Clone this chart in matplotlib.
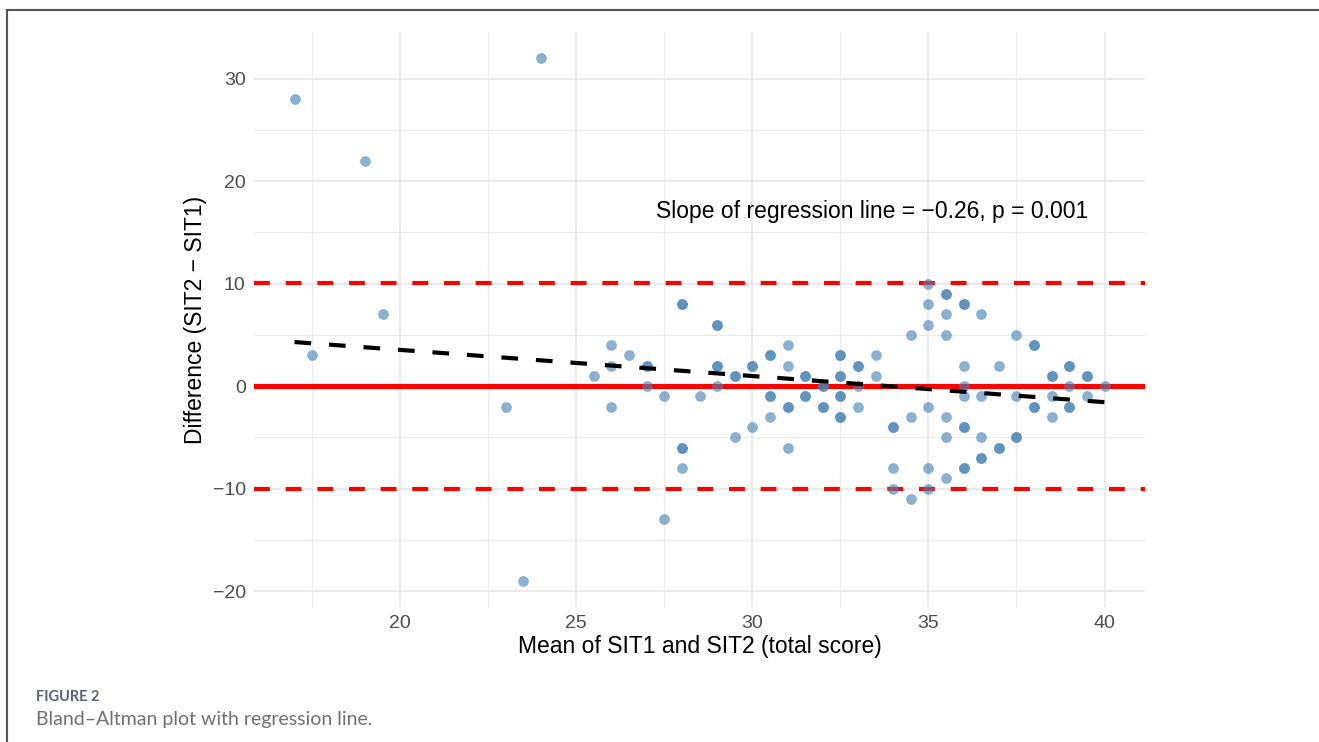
import matplotlib

matplotlib.use("Agg")
import matplotlib.pyplot as plt
from matplotlib.lines import Line2D

# mean of the two scores / difference; repeated pairs are overlapping points
mean_score = [
    17, 17.5, 19, 19.5, 23, 23.5, 24,
    25.5, 26, 26, 26, 26.5, 27, 27, 27, 27.5, 27.5,
    28, 28, 28, 28, 28, 28.5, 29, 29, 29, 29, 29, 29.5, 29.5, 29.5,
    30, 30, 30, 30.5, 30.5, 30.5, 30.5, 30.5,
    31, 31, 31, 31, 31, 31.5, 31.5, 31.5, 31.5,
    32, 32, 32, 32, 32.5, 32.5, 32.5, 32.5, 32.5, 32.5, 32.5, 32.5,
    33, 33, 33, 33, 33.5, 33.5,
    34, 34, 34, 34, 34.5, 34.5, 34.5,
    35, 35, 35, 35, 35, 35, 35.5, 35.5, 35.5, 35.5, 35.5, 35.5, 35.5,
    36, 36, 36, 36, 36, 36, 36, 36, 36, 36.5, 36.5, 36.5, 36.5, 36.5,
    37, 37, 37, 37.5, 37.5, 37.5, 37.5,
    38, 38, 38, 38, 38.5, 38.5, 38.5, 38.5,
    39, 39, 39, 39, 39, 39.5, 39.5, 39.5, 40,
]
difference = [
    28, 3, 22, 7, -2, -19, 32,
    1, 4, 2, -2, 3, 2, 2, 0, -1, -13,
    8, 8, -6, -6, -8, -1, 6, 6, 2, 2, 0, 1, 1, -5,
    2, 2, -4, 3, 3, -1, -1, -3,
    4, 2, -2, -2, -6, 1, 1, -1, -1,
    0, 0, -2, -2, 3, 3, 1, 1, -1, -1, -3, -3,
    2, 2, 0, -2, 3, 1,
    -4, -4, -8, -10, 5, -3, -11,
    10, 8, 6, -2, -8, -10, 9, 9, 7, 5, -3, -5, -9,
    8, 8, 2, 0, -4, -4, -8, -8, -1, 7, -1, -5, -7, -7,
    2, -6, -6, 5, -1, -5, -5,
    4, 4, -2, -2, 1, 1, -1, -3,
    2, 2, 0, -2, -2, 1, 1, -1, 0,
]

bias = 0.0
upper_loa = 10.1
lower_loa = -10.0
reg_slope = -0.255
reg_intercept = 8.635
annotation = "Slope of regression line = \u22120.26, p = 0.001"

x_ticks = [20, 25, 30, 35, 40]
y_ticks = [-20, -10, 0, 10, 20, 30]

plt.rcParams["font.family"] = ["Liberation Sans", "DejaVu Sans"]

fig = plt.figure(figsize=(13.19, 7.42), dpi=100)
W, H = 1319, 742
ax = fig.add_axes([254 / W, 1 - 607 / H, (1145 - 254) / W, (607 - 32) / H])

ax.set_xlim(15.85, 41.15)
ax.set_ylim(-21.55, 34.55)
ax.set_xticks(x_ticks)
ax.set_yticks(y_ticks)
ax.set_xticks([17.5, 22.5, 27.5, 32.5, 37.5], minor=True)
ax.set_yticks([-15, -5, 5, 15, 25], minor=True)
ax.grid(True, which="major", color="#ebebeb", linewidth=1.4)
ax.grid(True, which="minor", color="#ebebeb", linewidth=0.8)
ax.set_axisbelow(True)
for side in ax.spines.values():
    side.set_visible(False)
ax.tick_params(which="both", length=0, labelsize=14, labelcolor="#4d4d4d", pad=6)
ax.set_yticklabels([str(v).replace("-", "\u2212") for v in y_ticks])

ax.scatter(mean_score, difference, s=60, color="#4682b4", alpha=0.62,
           linewidths=0, zorder=3)

ax.axhline(bias, color="#ff0000", linewidth=3.7, zorder=2)
ax.axhline(upper_loa, color="#ff0000", linewidth=3, dashes=(3.8, 3.8), zorder=2)
ax.axhline(lower_loa, color="#ff0000", linewidth=3, dashes=(3.8, 3.8), zorder=2)

x0, x1 = min(mean_score), max(mean_score)
ax.add_line(Line2D([x0, x1], [reg_intercept + reg_slope * x0, reg_intercept + reg_slope * x1],
                   color="black", linewidth=3, dashes=(4, 4.3), zorder=4))

ax.text(33.4, 17.0, annotation, ha="center", va="center", fontsize=16.5, color="black")

ax.set_xlabel("Mean of SIT1 and SIT2 (total score)", fontsize=16.5, labelpad=2)
ax.set_ylabel("Difference (SIT2 \u2212 SIT1)", fontsize=16.5, labelpad=4)

# frame of the figure panel (top and left edges only)
fig.add_artist(Line2D([6.5 / W, 1], [1 - 9.5 / H, 1 - 9.5 / H], color="#555555", linewidth=1.5))
fig.add_artist(Line2D([6.5 / W, 6.5 / W], [0, 1 - 9.5 / H], color="#555555", linewidth=1.5))

fig.text(36 / W, 1 - 697 / H, "FIGURE 2", fontsize=10.5, fontweight="bold", color="#5f6070",
         family=["Lato", "DejaVu Sans"], va="center")
fig.text(36 / W, 1 - 719 / H, "Bland\u2013Altman plot with regression line.", fontsize=14,
         color="#707070", family=["Lato", "DejaVu Sans"], va="center")

fig.savefig("out.png", dpi=100)
